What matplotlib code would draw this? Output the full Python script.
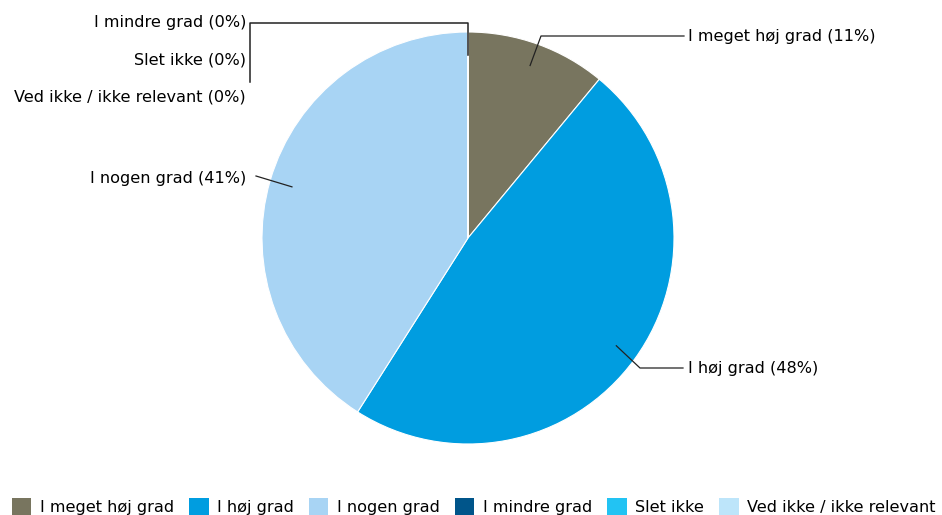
import numpy as np
import matplotlib
matplotlib.use("Agg")
from matplotlib import pyplot as plt
from matplotlib.patches import Patch

categories = ["I meget høj grad", "I høj grad", "I nogen grad",
              "I mindre grad", "Slet ikke", "Ved ikke / ikke relevant"]
shares = [11, 48, 41, 0, 0, 0]
colors = ["#78755F", "#009DE0", "#A8D4F4", "#00558A", "#22C3F3", "#BDE5FA"]

W, H = 942, 515
fig = plt.figure(figsize=(W / 100, H / 100), dpi=100)
ax = fig.add_axes([0, 0, 1, 1])

cx, cy, r = 468, H - 238, 206
wedges, _ = ax.pie(shares, colors=colors, startangle=90, counterclock=False,
                   center=(cx, cy), radius=r, frame=True,
                   wedgeprops=dict(edgecolor="white", linewidth=0.8))
ax.set_xlim(0, W)
ax.set_ylim(0, H)
ax.set_aspect("equal")
ax.axis("off")

fs = 11.6
lc = "#222222"


def mid_point(w, f=0.89):
    a = np.deg2rad((w.theta1 + w.theta2) / 2)
    return cx + f * r * np.cos(a), cy + f * r * np.sin(a)


# I meget høj grad
x0, y0 = mid_point(wedges[0])
ax.plot([x0, 541, 684], [y0, H - 36, H - 36], color=lc, lw=0.9)
ax.text(688, H - 37, f"{categories[0]} ({shares[0]}%)", fontsize=fs, va="center", ha="left")

# I høj grad
x0, y0 = mid_point(wedges[1])
ax.plot([x0, 640, 683], [y0, H - 368, H - 368], color=lc, lw=0.9)
ax.text(688, H - 368, f"{categories[1]} ({shares[1]}%)", fontsize=fs, va="center", ha="left")

# I nogen grad
x0, y0 = mid_point(wedges[2])
ax.plot([x0, 256], [y0, H - 176], color=lc, lw=0.9)
ax.text(246, H - 179, f"{categories[2]} ({shares[2]}%)", fontsize=fs, va="center", ha="right")

# zero slices
x0, y0 = mid_point(wedges[3])
ax.plot([x0, x0, 250, 250], [y0, H - 23, H - 23, H - 82], color=lc, lw=1.1)
for i, ty in zip(range(3, 6), [23, 60, 97]):
    ax.text(246, H - ty, f"{categories[i]} ({shares[i]}%)", fontsize=fs, va="center", ha="right")

handles = [Patch(facecolor=c, edgecolor="none") for c in colors]
fig.legend(handles, categories, loc="lower left", bbox_to_anchor=(0.006, -0.012), ncol=6,
           frameon=False, fontsize=fs, handlelength=1.2, handleheight=1.2,
           handletextpad=0.55, columnspacing=0.92, borderaxespad=0)

fig.savefig("out.png", dpi=100)
